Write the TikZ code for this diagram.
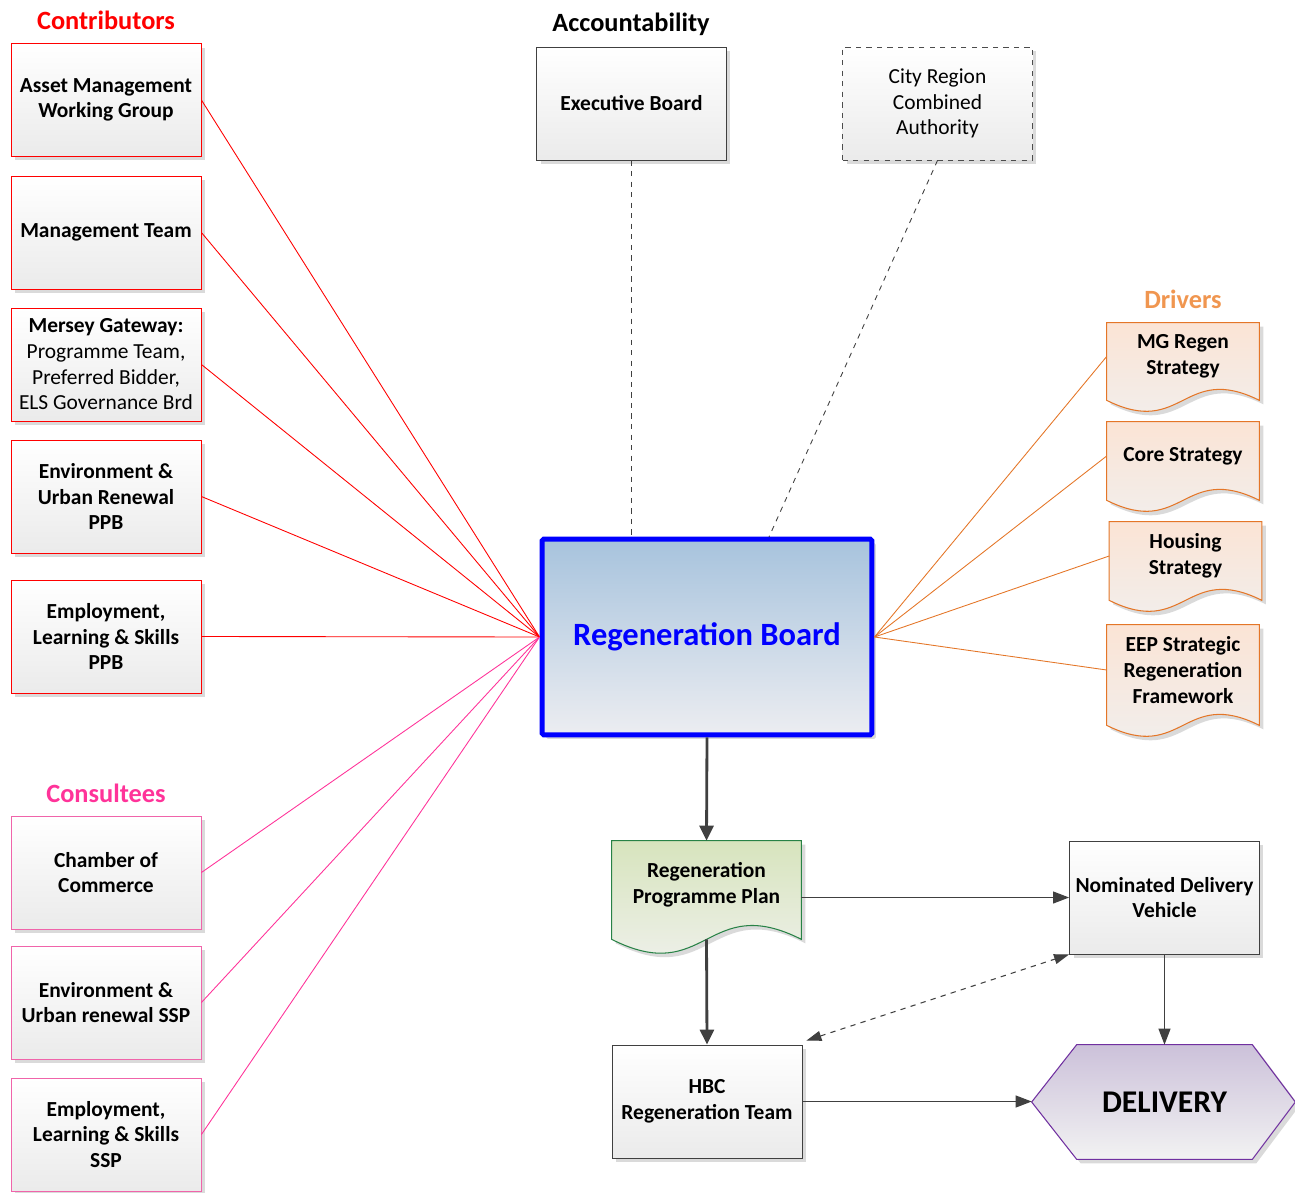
\documentclass[tikz,border=0pt]{standalone}
\usepackage{fontspec}
\setmainfont{Carlito}
\usetikzlibrary{calc,shadows,arrows.meta,backgrounds}

\definecolor{contribred}{RGB}{255,0,0}
\definecolor{consultpink}{RGB}{255,51,153}
\definecolor{consultedge}{RGB}{240,100,170}
\definecolor{driverorange}{RGB}{228,118,40}
\definecolor{drivertitle}{RGB}{240,150,80}
\definecolor{driverfill}{RGB}{251,228,213}
\definecolor{planedge}{RGB}{40,130,70}
\definecolor{planfill}{RGB}{215,228,189}
\definecolor{boardblue}{RGB}{0,0,255}
\definecolor{boardfill}{RGB}{167,195,221}
\definecolor{delivedge}{RGB}{112,48,160}
\definecolor{delivfill}{RGB}{204,193,218}
\definecolor{linkgrey}{RGB}{64,64,64}

\newcommand{\docpath}[2]{(#1.north west) -- (#1.north east) -- ($(#1.south east)+(0,10)$)
  .. controls ($(#1.south)+(0,10-#2)$) and ($(#1.south)+(0,10+#2)$) .. ($(#1.south west)+(0,10)$) -- cycle}

\tikzset{
  shadowed/.style={drop shadow={shadow xshift=0.08cm, shadow yshift=-0.08cm, fill=black!18, opacity=0.8}},
  boxtext/.style={font=\fontsize{12.2}{14.6}\selectfont\bfseries, align=center},
  box/.style={boxtext, draw=black!75, rectangle, minimum width=3.8cm, minimum height=2.26cm,
    top color=white, bottom color=black!8, shadowed, line width=0.5pt},
  contrib/.style={box, draw=contribred},
  consult/.style={box, draw=consultedge},
  title/.style={font=\fontsize{15}{18}\selectfont\bfseries},
  docnode/.style={boxtext, minimum width=3.04cm, inner sep=0pt},
  docorange/.style={draw=driverorange, line width=0.6pt, top color=driverfill, bottom color=black!6, shadowed},
  redline/.style={contribred, line width=0.5pt},
  pinkline/.style={consultpink, line width=0.5pt},
  orangeline/.style={driverorange, line width=0.5pt},
  dashline/.style={linkgrey, dashed, line width=0.5pt},
  bigarrow/.style={linkgrey, line width=1.6pt, -{Triangle[length=0.3cm,width=0.28cm]}},
  smallarrow/.style={linkgrey, line width=0.6pt, -{Triangle[length=0.32cm,width=0.24cm]}}
}

\begin{document}
\begin{tikzpicture}[x=0.02cm, y=-0.02cm]
\useasboundingbox (0,0) rectangle (1295,1193);

% titles
\node[title, contribred] (ttlcontrib) at (106,20) {Contributors};
\node[title, consultpink] (ttlconsult) at (106,793) {Consultees};
\node[title] (ttlaccount) at (631,24) {Accountability};
\node[title, drivertitle] (ttldrivers) at (1183,299) {Drivers};

% contributors
\node[contrib] (amwg) at (106,100) {Asset Management\\Working Group};
\node[contrib] (mteam) at (106,232.5) {Management Team};
\node[contrib] (mgate) at (106,364.5) {Mersey Gateway:\\\mdseries Programme Team,\\\mdseries Preferred Bidder,\\\mdseries ELS Governance Brd};
\node[contrib] (eurppb) at (106,496.5) {Environment \&\\Urban Renewal\\PPB};
\node[contrib] (elsppb) at (106,636.5) {Employment,\\Learning \& Skills\\PPB};

% consultees
\node[consult] (chamber) at (106,872.5) {Chamber of\\Commerce};
\node[consult] (eurssp) at (106,1002.5) {Environment \&\\Urban renewal SSP};
\node[consult] (elsssp) at (106,1134.5) {Employment,\\Learning \& Skills\\SSP};

% accountability
\node[box] (exec) at (631.5,103.5) {Executive Board};
\node[box, dashed, draw=black!70, font=\fontsize{12.2}{14.6}\selectfont] (cra) at (937.5,103.5) {City Region\\Combined\\Authority};

% the board
\node[draw=boardblue, line width=0.1cm, rounded corners=1pt, minimum width=6.6cm, minimum height=3.92cm,
  top color=boardfill, bottom color={rgb,255:red,236;green,237;blue,241}, shadowed,
  text=boardblue, font=\fontsize{18.5}{22}\selectfont\bfseries] (rb) at (707,637) {Regeneration Board};

% drivers
\node[docnode, minimum height=1.34cm] (mgregen) at (1183,356.5) {MG Regen\\Strategy};
\node[docnode, minimum height=1.36cm] (core) at (1183,456) {Core Strategy};
\node[docnode, minimum height=1.36cm] (housing) at (1185.5,556) {Housing\\Strategy};
\node[docnode, minimum height=1.8cm] (eep) at (1183,670) {EEP Strategic\\Regeneration\\Framework};

% delivery side
\node[docnode, minimum width=3.78cm, minimum height=1.76cm] (rpp) at (706.5,885) {Regeneration\\Programme Plan};
\node[box] (ndv) at (1164.5,897.5) {Nominated Delivery\\Vehicle};
\node[box] (hbc) at (707,1101.5) {HBC\\Regeneration Team};
\node[boxtext, minimum width=3.5cm, minimum height=2.28cm, inner sep=0pt,
  font=\fontsize{18}{21}\selectfont\bfseries] (deliv) at (1164.5,1102) {DELIVERY};
\coordinate (delright) at ($(deliv.east)+(43,0)$);
\coordinate (delleft) at ($(deliv.west)+(-45,0)$);
\coordinate (rppbase) at ($(rpp.south)+(0,10)$);
\coordinate (craend) at (769,537);

\begin{scope}[on background layer]
\path[docorange] \docpath{mgregen}{38};
\path[docorange] \docpath{core}{38};
\path[docorange] \docpath{housing}{38};
\path[docorange] \docpath{eep}{38};
\path[draw=planedge, line width=0.6pt, top color=planfill, bottom color=black!5, shadowed] \docpath{rpp}{48};
\path[draw=delivedge, line width=0.6pt, top color=delivfill, bottom color=black!5, shadowed]
  (deliv.north west) -- (deliv.north east) -- (delright) -- (deliv.south east)
  -- (deliv.south west) -- (delleft) -- cycle;
\end{scope}

% contributor and consultee links
\draw[redline] (amwg.east) -- (rb.west);
\draw[redline] (mteam.east) -- (rb.west);
\draw[redline] (mgate.east) -- (rb.west);
\draw[redline] (eurppb.east) -- (rb.west);
\draw[redline] (elsppb.east) -- (rb.west);
\draw[pinkline] (chamber.east) -- (rb.west);
\draw[pinkline] (eurssp.east) -- (rb.west);
\draw[pinkline] (elsssp.east) -- (rb.west);

% accountability links
\draw[dashline] (exec.south) -- (exec.south |- rb.north);
\draw[dashline] (cra.south) -- (craend);

% driver links
\draw[orangeline] (rb.east) -- (mgregen.west);
\draw[orangeline] (rb.east) -- (core.west);
\draw[orangeline] (rb.east) -- (housing.west);
\draw[orangeline] (rb.east) -- (eep.west);

% delivery flow
\draw[bigarrow] (rb.south) -- (rpp.north);
\draw[bigarrow] (rppbase) -- (hbc.north);
\draw[smallarrow] (ndv.west -| rpp.east) -- (ndv.west);
\draw[smallarrow] (ndv.south) -- (deliv.north);
\draw[smallarrow] (hbc.east) -- (hbc.east -| delleft);
\draw[linkgrey, dashed, line width=0.6pt, {Triangle[length=0.3cm,width=0.2cm]}-{Triangle[length=0.3cm,width=0.2cm]}]
  ($(hbc.north east)+(4,-4)$) -- (ndv.south west);
\end{tikzpicture}
\end{document}
